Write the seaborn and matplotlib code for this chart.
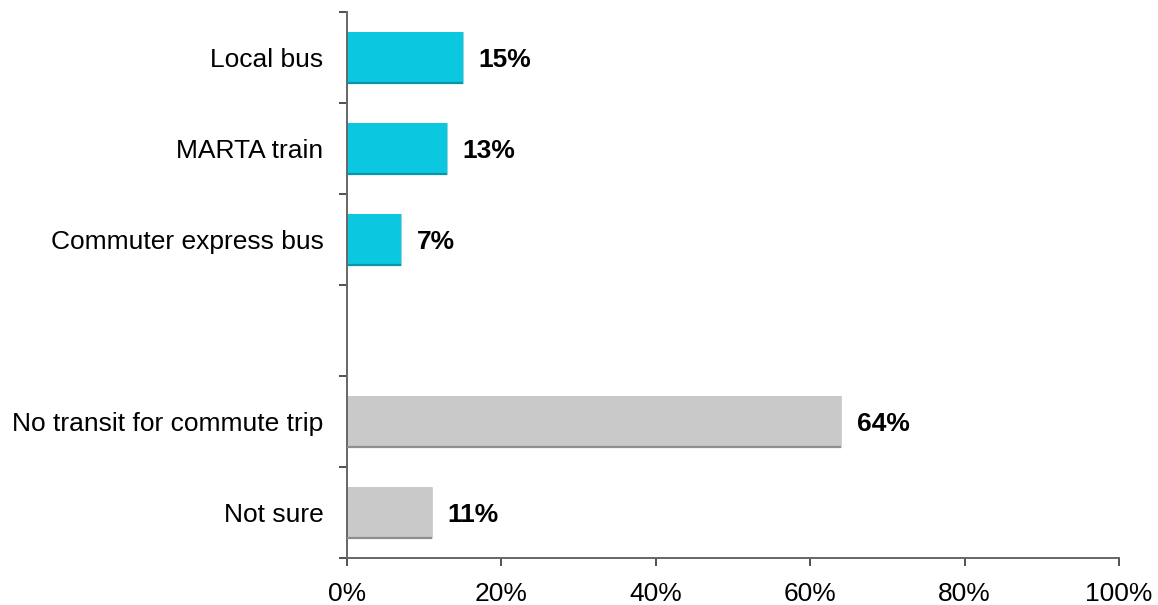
import matplotlib
matplotlib.use("Agg")
import matplotlib.pyplot as plt
import seaborn as sns
import numpy as np
import pandas as pd
from matplotlib.ticker import FuncFormatter

# Transit modes used for the commute trip (share of respondents, %)
categories = ["Local bus", "MARTA train", "Commuter express bus", " ",
              "No transit for commute trip", "Not sure"]
values = [15, 13, 7, np.nan, 64, 11]
groups = ["transit", "transit", "transit", "transit", "none", "none"]
x_ticks = [0, 20, 40, 60, 80, 100]

palette = {"transit": "#0BC8E0", "none": "#C9C9C9"}
edge_dark = {"transit": "#0A95A8", "none": "#8E8E8E"}

sns.set_style("white")
plt.rcParams["font.family"] = ["Liberation Sans", "DejaVu Sans"]

df = pd.DataFrame({"mode": categories, "pct": values, "group": groups})

fig = plt.figure(figsize=(11.58, 6.05), dpi=100)
ax = fig.add_axes([0.2997, 0.0777, 0.6666, 0.9025])

sns.barplot(data=df, y="mode", x="pct", hue="group", palette=palette,
            order=categories, orient="h", width=0.57, dodge=False,
            legend=False, ax=ax, linewidth=0, saturation=1)

# darker underside on each bar for a slight raised look
for patch in ax.patches:
    w = patch.get_width()
    if not np.isfinite(w) or w <= 0:
        continue
    y0 = patch.get_y()
    h = patch.get_height()
    fc = patch.get_facecolor()
    grp = "transit" if fc[2] > 0.8 and fc[0] < 0.5 else "none"
    ax.plot([0, w], [y0 + h, y0 + h], color=edge_dark[grp], lw=1.6,
            solid_capstyle="butt", zorder=3)
    ax.plot([w, w], [y0, y0 + h], color=edge_dark[grp], lw=0.6, alpha=0.5,
            zorder=3)

# value labels
for i, v in enumerate(values):
    if np.isfinite(v):
        ax.text(v + 2.0, i, f"{v:.0f}%", va="center_baseline", ha="left",
                fontsize=19, fontweight="bold", color="black")

ax.set_xlim(0, 100)
ax.set_ylim(len(categories) - 0.5, -0.5)
ax.set_xticks(x_ticks)
ax.xaxis.set_major_formatter(FuncFormatter(lambda v, p: f"{v:.0f}%"))

# boundary ticks on the category axis, labels centred between them
ax.set_yticks(np.arange(-0.5, len(categories), 1.0))
ax.set_yticklabels([])
ax.set_yticks(np.arange(len(categories)), minor=True)
ax.set_yticklabels(categories, minor=True)
for lbl in ax.get_yticklabels(minor=True):
    lbl.set_verticalalignment("center_baseline")
ax.tick_params(axis="y", which="minor", length=0, pad=17, labelsize=19,
               labelcolor="black")
ax.tick_params(axis="y", which="major", length=6, width=1.2, color="#333333",
               direction="out", left=True)
ax.tick_params(axis="x", length=6, width=1.2, color="#333333",
               direction="out", bottom=True, labelsize=19, pad=11,
               labelcolor="black")

ax.set_xlabel("")
ax.set_ylabel("")
for side in ["top", "right"]:
    ax.spines[side].set_visible(False)
for side in ["left", "bottom"]:
    ax.spines[side].set_color("#666666")
    ax.spines[side].set_linewidth(1.4)

fig.savefig("out.png", dpi=100, facecolor="white")
